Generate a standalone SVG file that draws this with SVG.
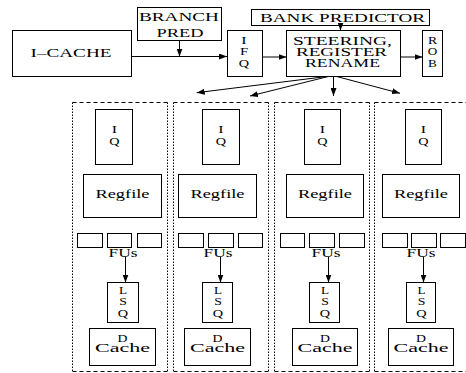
<svg xmlns="http://www.w3.org/2000/svg" width="466" height="373" viewBox="0 0 466 373">
<style>
.b{fill:#fff;stroke:#000;stroke-width:1}
.t{font-family:"Liberation Serif","Times New Roman",serif;font-size:11.5px;text-anchor:middle;fill:#000}
.s{font-size:11px}
.c{fill:none;stroke:#000;stroke-width:1}
.dh{fill:none;stroke:#000;stroke-width:1;stroke-dasharray:4 3}
.dv{fill:none;stroke:#000;stroke-width:1;stroke-dasharray:1.5 1.5}
</style>
<defs>
<marker id="ah" markerUnits="userSpaceOnUse" markerWidth="8" markerHeight="6" refX="8" refY="3" orient="auto"><path d="M0,0 L8,3 L0,6 Z" fill="#000"/></marker>
</defs>
<rect width="466" height="373" fill="#fff"/>

<g id="panels">
<g id="panel1"><path class="dh" d="M72.5,102.5H167.5M72.5,371.5H167.5"/><path class="dv" d="M72.5,102.5V371.5M167.5,102.5V371.5"/></g>
<g id="panel2"><path class="dh" d="M173.5,102.5H268.5M173.5,371.5H268.5"/><path class="dv" d="M173.5,102.5V371.5M268.5,102.5V371.5"/></g>
<g id="panel3"><path class="dh" d="M274.5,102.5H369.5M274.5,371.5H369.5"/><path class="dv" d="M274.5,102.5V371.5M369.5,102.5V371.5"/></g>
<g id="panel4"><path class="dh" d="M374.5,102.5H466M374.5,371.5H466"/><path class="dv" d="M374.5,102.5V371.5"/></g>
</g>

<g id="icache"><rect class="b" x="12.5" y="30.5" width="119" height="46"/><text class="t" x="71" y="57" textLength="81" lengthAdjust="spacingAndGlyphs">I–CACHE</text></g>
<g id="branchpred"><rect class="b" x="137.5" y="7.5" width="84" height="33"/><text class="t" x="179" y="21" textLength="80" lengthAdjust="spacingAndGlyphs">BRANCH</text><text class="t" x="180" y="37" textLength="47" lengthAdjust="spacingAndGlyphs">PRED</text></g>
<g id="ifq"><rect class="b" x="227.5" y="30.5" width="35" height="46"/><text class="t s" transform="translate(244,43.5) scale(1.45,1)">I</text><text class="t s" transform="translate(244,55) scale(1.35,1)">F</text><text class="t s" transform="translate(244,66.5) scale(1.3,1)">Q</text></g>
<g id="bankpred"><rect class="b" x="251.5" y="9.5" width="178" height="16"/><text class="t" x="342.5" y="21.5" textLength="165" lengthAdjust="spacingAndGlyphs">BANK PREDICTOR</text></g>
<g id="steering"><rect class="b" x="286.5" y="30.5" width="114" height="46"/><text class="t" x="342.5" y="44.5" textLength="99" lengthAdjust="spacingAndGlyphs">STEERING,</text><text class="t" x="341.5" y="55.5" textLength="91" lengthAdjust="spacingAndGlyphs">REGISTER</text><text class="t" x="342.5" y="66.7" textLength="75" lengthAdjust="spacingAndGlyphs">RENAME</text></g>
<g id="rob"><rect class="b" x="422.5" y="30.5" width="20" height="46"/><text class="t s" transform="translate(432.5,43.5) scale(1.25,1)">R</text><text class="t s" transform="translate(432.5,55) scale(1.2,1)">O</text><text class="t s" transform="translate(432.5,66.5) scale(1.2,1)">B</text></g>

<g id="cluster1">
<g id="iq1"><rect class="b" x="95.5" y="109.5" width="37" height="55"/><text class="t s" transform="translate(114.5,132.5) scale(1.45,1)">I</text><text class="t s" transform="translate(114.5,144.5) scale(1.3,1)">Q</text></g>
<g id="regfile1"><rect class="b" x="83.5" y="174.5" width="78" height="43"/><text class="t" x="122.5" y="198" textLength="54" lengthAdjust="spacingAndGlyphs">Regfile</text></g>
<g id="fus1"><rect class="b" x="77.5" y="233.5" width="25" height="14"/><rect class="b" x="107.5" y="233.5" width="24" height="14"/><rect class="b" x="137.5" y="233.5" width="24" height="14"/><text class="t" x="123" y="256.5" textLength="29" lengthAdjust="spacingAndGlyphs">FUs</text></g>
<g id="lsq1"><rect class="b" x="107.5" y="282.5" width="31" height="40"/><text class="t s" transform="translate(123,293.5) scale(1.2,1)">L</text><text class="t s" transform="translate(123,305) scale(1.25,1)">S</text><text class="t s" transform="translate(123,316.5) scale(1.3,1)">Q</text></g>
<g id="dcache1"><rect class="b" x="89.5" y="328.5" width="66" height="37"/><text class="t s" transform="translate(122.5,341.5) scale(1.25,1)">D</text><text class="t" x="122.5" y="352.3" textLength="55" lengthAdjust="spacingAndGlyphs">Cache</text></g>
</g>

<g id="cluster2">
<g id="iq2"><rect class="b" x="202.5" y="109.5" width="37" height="55"/><text class="t s" transform="translate(221,132.5) scale(1.45,1)">I</text><text class="t s" transform="translate(221,144.5) scale(1.3,1)">Q</text></g>
<g id="regfile2"><rect class="b" x="178.5" y="174.5" width="78" height="43"/><text class="t" x="217.5" y="198" textLength="54" lengthAdjust="spacingAndGlyphs">Regfile</text></g>
<g id="fus2"><rect class="b" x="178.5" y="233.5" width="25" height="14"/><rect class="b" x="208.5" y="233.5" width="25" height="14"/><rect class="b" x="238.5" y="233.5" width="24" height="14"/><text class="t" x="218" y="256.5" textLength="29" lengthAdjust="spacingAndGlyphs">FUs</text></g>
<g id="lsq2"><rect class="b" x="202.5" y="282.5" width="30" height="40"/><text class="t s" transform="translate(218,293.5) scale(1.2,1)">L</text><text class="t s" transform="translate(218,305) scale(1.25,1)">S</text><text class="t s" transform="translate(218,316.5) scale(1.3,1)">Q</text></g>
<g id="dcache2"><rect class="b" x="184.5" y="328.5" width="66" height="37"/><text class="t s" transform="translate(217.5,341.5) scale(1.25,1)">D</text><text class="t" x="217.5" y="352.3" textLength="55" lengthAdjust="spacingAndGlyphs">Cache</text></g>
</g>

<g id="cluster3">
<g id="iq3"><rect class="b" x="304.5" y="109.5" width="36" height="55"/><text class="t s" transform="translate(322.5,132.5) scale(1.45,1)">I</text><text class="t s" transform="translate(322.5,144.5) scale(1.3,1)">Q</text></g>
<g id="regfile3"><rect class="b" x="286.5" y="174.5" width="77" height="43"/><text class="t" x="325" y="198" textLength="54" lengthAdjust="spacingAndGlyphs">Regfile</text></g>
<g id="fus3"><rect class="b" x="280.5" y="233.5" width="24" height="14"/><rect class="b" x="309.5" y="233.5" width="25" height="14"/><rect class="b" x="339.5" y="233.5" width="25" height="14"/><text class="t" x="326" y="256.5" textLength="29" lengthAdjust="spacingAndGlyphs">FUs</text></g>
<g id="lsq3"><rect class="b" x="309.5" y="282.5" width="30" height="40"/><text class="t s" transform="translate(325,293.5) scale(1.2,1)">L</text><text class="t s" transform="translate(325,305) scale(1.25,1)">S</text><text class="t s" transform="translate(325,316.5) scale(1.3,1)">Q</text></g>
<g id="dcache3"><rect class="b" x="292.5" y="328.5" width="65" height="37"/><text class="t s" transform="translate(325,341.5) scale(1.25,1)">D</text><text class="t" x="325" y="352.3" textLength="55" lengthAdjust="spacingAndGlyphs">Cache</text></g>
</g>

<g id="cluster4">
<g id="iq4"><rect class="b" x="405.5" y="109.5" width="36" height="55"/><text class="t s" transform="translate(423.5,132.5) scale(1.45,1)">I</text><text class="t s" transform="translate(423.5,144.5) scale(1.3,1)">Q</text></g>
<g id="regfile4"><rect class="b" x="382.5" y="174.5" width="77" height="43"/><text class="t" x="421" y="198" textLength="54" lengthAdjust="spacingAndGlyphs">Regfile</text></g>
<g id="fus4"><rect class="b" x="382.5" y="233.5" width="25" height="14"/><rect class="b" x="411.5" y="233.5" width="25" height="14"/><rect class="b" x="440.5" y="233.5" width="25" height="14"/><text class="t" x="421" y="256.5" textLength="29" lengthAdjust="spacingAndGlyphs">FUs</text></g>
<g id="lsq4"><rect class="b" x="406.5" y="282.5" width="29" height="40"/><text class="t s" transform="translate(421.5,293.5) scale(1.2,1)">L</text><text class="t s" transform="translate(421.5,305) scale(1.25,1)">S</text><text class="t s" transform="translate(421.5,316.5) scale(1.3,1)">Q</text></g>
<g id="dcache4"><rect class="b" x="388.5" y="328.5" width="65" height="37"/><text class="t s" transform="translate(421,341.5) scale(1.25,1)">D</text><text class="t" x="421" y="352.3" textLength="55" lengthAdjust="spacingAndGlyphs">Cache</text></g>
</g>

<g id="connectors">
<path class="c" d="M131.5,56.5H227" marker-end="url(#ah)"/>
<path class="c" d="M179.5,40.5V56.5" marker-end="url(#ah)"/>
<path class="c" d="M340.5,25.5V30.5" marker-end="url(#ah)"/>
<path class="c" d="M262.5,57H286.5" marker-end="url(#ah)"/>
<path class="c" d="M400.5,57H422.5" marker-end="url(#ah)"/>
<path class="c" d="M326.7,76.5L196.7,92.7" marker-end="url(#ah)"/>
<path class="c" d="M328.3,76.5L250,96" marker-end="url(#ah)"/>
<path class="c" d="M333.5,76.5V96" marker-end="url(#ah)"/>
<path class="c" d="M336.7,76.5L400,93.3" marker-end="url(#ah)"/>
<path class="c" d="M125.5,257V282.5" marker-end="url(#ah)"/>
<path class="c" d="M220.5,257V282.5" marker-end="url(#ah)"/>
<path class="c" d="M328.5,257V282.5" marker-end="url(#ah)"/>
<path class="c" d="M423.5,257V282.5" marker-end="url(#ah)"/>
</g>
</svg>
